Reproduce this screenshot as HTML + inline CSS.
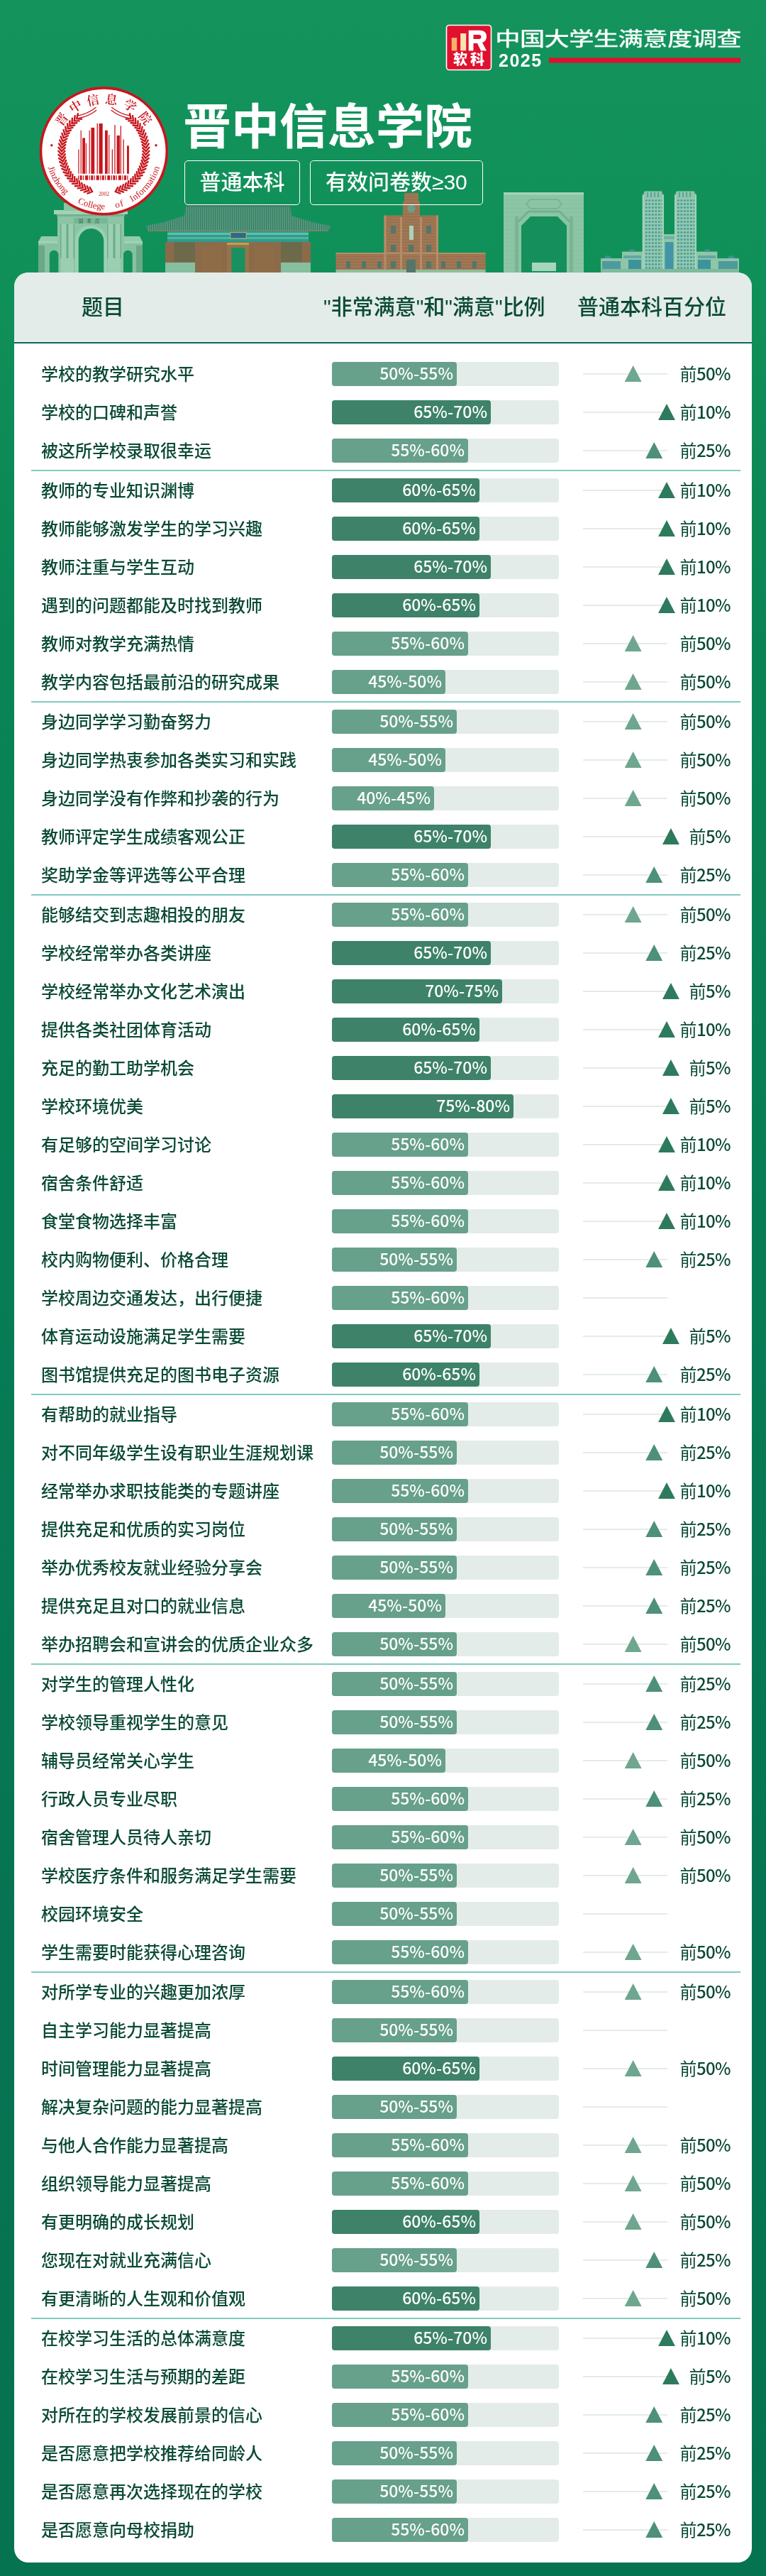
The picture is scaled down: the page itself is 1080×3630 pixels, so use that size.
<!DOCTYPE html>
<html lang="zh-CN"><head><meta charset="utf-8"><title>晋中信息学院 - 中国大学生满意度调查2025</title>
<style>
html,body{margin:0;padding:0;-webkit-font-smoothing:antialiased}
body{width:1080px;height:3630px;position:relative;overflow:hidden;
background:linear-gradient(180deg,#14935d 0px,#109059 400px,#0a8455 900px,#077c55 1800px,#067452 2700px,#057250 3630px);
font-family:"Liberation Sans","Noto Sans CJK SC",sans-serif;}
.cjk{font-family:"Noto Sans CJK SC",sans-serif}
.card{position:absolute;left:20px;top:384px;width:1040px;height:3227px;background:#fff;border-radius:20px;overflow:hidden}
.thead{position:absolute;left:0;top:0;width:1040px;height:97px;background:#e3ece9;border-bottom:1px solid #f4f7f6;will-change:transform}
.thead .bd{position:absolute;left:0;top:98px;width:1040px;height:2px;background:#03685a}
.th{position:absolute;top:-1.8px;line-height:97px;height:97px;font-size:30px;font-weight:500;color:#0b4a35;font-family:"Noto Sans CJK SC",sans-serif;white-space:nowrap}
.q{font-family:"Liberation Sans",sans-serif;font-weight:400}
.row{position:absolute;left:0;width:1040px;height:54px;will-change:transform}
.lbl{position:absolute;left:38px;top:-1.5px;line-height:54px;font-size:24px;color:#0b4a35;font-family:"Noto Sans CJK SC",sans-serif;font-weight:500;white-space:nowrap}
.trk{position:absolute;left:448px;top:10px;width:320px;height:34px;background:#e4ece9;border-radius:4px}
.fill{height:34px;border-radius:4px;color:#fff;text-align:right;box-sizing:border-box;padding-right:5px;font-size:23px;line-height:31px;font-family:"Noto Sans CJK SC",sans-serif;font-weight:500;white-space:nowrap}
.ln{position:absolute;left:801.6px;width:119.4px;top:26px;height:2px;background:#e3ece8}
.tri{position:absolute;top:14.9px;width:24.2px;height:23.4px;clip-path:polygon(50% 0,100% 100%,0 100%)}
.pct{position:absolute;right:30px;top:-1.5px;line-height:54px;font-size:24px;color:#0b4a35;font-family:"Noto Sans CJK SC",sans-serif;font-weight:500;letter-spacing:-0.6px;white-space:nowrap}
.qn{font-weight:400}
.sep{position:absolute;left:24px;width:1000px;height:2px;background:#80cbbf}
</style></head><body>
<svg style="position:absolute;left:0;top:0;will-change:transform" width="1080" height="400" viewBox="0 0 1080 400">
<defs>
<pattern id="tiles" x="0" y="0" width="3" height="10" patternUnits="userSpaceOnUse"><rect width="3" height="10" fill="#4a8f76"/><rect width="1.1" height="10" fill="#387b63"/><rect x="1.6" width="0.8" height="10" fill="#60a388"/></pattern>
<pattern id="twin" x="0" y="0" width="4.5" height="5" patternUnits="userSpaceOnUse"><rect width="4.5" height="5" fill="#93caab"/><rect x="0.9" y="1.2" width="2.8" height="2.6" fill="#4d9aa0"/></pattern>
<pattern id="brick" x="0" y="0" width="6" height="4" patternUnits="userSpaceOnUse"><rect width="6" height="4" fill="#9b7250"/><rect y="3.3" width="6" height="0.7" fill="#a8805c"/></pattern>
<pattern id="mint" x="0" y="0" width="6" height="6" patternUnits="userSpaceOnUse"><rect width="6" height="6" fill="#8cc5a6"/><rect y="5.4" width="6" height="0.6" fill="#82bd9d"/></pattern>
</defs>
<!-- Tsinghua gate -->
<g>
<rect x="54" y="340" width="147" height="44" fill="#86c2a1"/>
<path d="M54 341 L58 333 L82 333 L82 341 Z M175 341 L175 333 L197 333 L201 341 Z" fill="#94cbac"/>
<rect x="54" y="340" width="28" height="3" fill="#9fd3b5"/>
<rect x="175" y="340" width="26" height="3" fill="#9fd3b5"/>
<rect x="81" y="300" width="94" height="84" fill="#8cc5a6"/>
<rect x="76" y="296" width="104" height="6" fill="#a0d3b6"/>
<rect x="80" y="302" width="96" height="3" fill="#74b191"/>
<rect x="90" y="286" width="76" height="11" fill="#8cc5a6"/>
<rect x="104" y="307" width="48" height="8" fill="#7ab797"/>
<text x="128" y="314" text-anchor="middle" font-family="'Noto Serif CJK SC',serif" font-size="6.5" fill="#2e5e48" letter-spacing="5">園華清</text>
<path d="M110.5 384 L110.5 340 A18 18 0 0 1 146.5 340 L146.5 384 Z" fill="#15905c"/>
<path d="M106 384 L106 340 A22.5 22.5 0 0 1 151 340 L151 384 L146.5 384 L146.5 340 A18 18 0 0 0 110.5 340 L110.5 384 Z" fill="#9bd0b2"/>
<path d="M69.8 384 L69.8 359 A6.3 6.3 0 0 1 82.4 359 L82.4 384 Z M174 384 L174 359 A6.3 6.3 0 0 1 186.7 359 L186.7 384 Z" fill="#15905c"/>
<rect x="85" y="316" width="20" height="48" fill="#6dab8b"/>
<rect x="151" y="316" width="20" height="48" fill="#6dab8b"/>
<rect x="86.5" y="316" width="7" height="48" fill="#9dd0b3"/>
<rect x="96.5" y="316" width="7" height="48" fill="#9dd0b3"/>
<rect x="152.5" y="316" width="7" height="48" fill="#9dd0b3"/>
<rect x="162.5" y="316" width="7" height="48" fill="#9dd0b3"/>
<rect x="54" y="346" width="9" height="38" fill="#6aa987"/>
<rect x="192" y="346" width="9" height="38" fill="#6aa987"/>
<rect x="86" y="364" width="18" height="20" fill="#9ccfb2"/>
<rect x="152" y="364" width="18" height="20" fill="#9ccfb2"/>
</g>
<!-- PKU west gate -->
<g>
<path d="M262 290 L409 290 L411 304 L440 313 L466 318 L463 326 L208 326 L206 318 L231 313 L260 304 Z" fill="url(#tiles)"/>
<path d="M262 290 L409 290" stroke="#3b7c63" stroke-width="2.4"/>
<path d="M210 325 L461 325" stroke="#a07a4c" stroke-width="1.6" stroke-dasharray="1.5 1.5"/>
<rect x="236" y="326" width="199" height="15" fill="#2f9b8b"/>
<rect x="236" y="328" width="199" height="3" fill="#5cc0ac"/>
<rect x="236" y="334" width="199" height="3" fill="#4fb3a0"/>
<rect x="324.8" y="327.6" width="22.4" height="8.4" fill="#2c6a8a" stroke="#c2b460" stroke-width="1"/>
<rect x="233" y="341" width="205" height="43" fill="#8b6a4a"/>
<rect x="245" y="341" width="30" height="28" fill="#6c6a4b"/>
<rect x="396" y="341" width="30" height="28" fill="#6c6a4b"/>
<rect x="233" y="370" width="42" height="14" fill="#86bf9f"/>
<rect x="396" y="370" width="42" height="14" fill="#86bf9f"/>
<rect x="283.5" y="346" width="29.2" height="38" fill="#8f6c48"/>
<rect x="358" y="346" width="29.2" height="38" fill="#8f6c48"/>
<rect x="320" y="344" width="31" height="40" fill="#97734c"/>
<rect x="326.3" y="349" width="19.2" height="35" fill="#1a8f5f"/>
<rect x="320" y="342" width="31" height="3" fill="#b8a456"/>
</g>
<!-- brick building -->
<g>
<rect x="570" y="272" width="20" height="13" fill="url(#brick)"/>
<rect x="568" y="284" width="24" height="20" fill="url(#brick)"/>
<rect x="541.5" y="303.6" width="76.5" height="80.4" fill="url(#brick)"/>
<rect x="473.6" y="356" width="211" height="28" fill="url(#brick)"/>
<g fill="#b48d68">
<rect x="541.5" y="303.6" width="3" height="80"/><rect x="615" y="303.6" width="3" height="80"/>
<rect x="564" y="306" width="3" height="78"/><rect x="592" y="306" width="3" height="78"/>
<rect x="473.6" y="356" width="211" height="2"/>
</g>
<rect x="473.6" y="380" width="211" height="4" fill="#8fbf9c"/>
<circle cx="580" cy="294" r="5.5" fill="#6aa08a"/>
<g fill="#55756a">
<rect x="551" y="318" width="7" height="11"/><rect x="601" y="318" width="7" height="11"/>
<rect x="551" y="345" width="7" height="10"/><rect x="601" y="345" width="7" height="10"/><rect x="576" y="345" width="7" height="10"/>
<rect x="488" y="368" width="6" height="10"/><rect x="510" y="368" width="6" height="10"/><rect x="532" y="368" width="6" height="10"/>
<rect x="551" y="368" width="7" height="10"/><rect x="601" y="368" width="7" height="10"/>
<rect x="622" y="368" width="6" height="10"/><rect x="644" y="368" width="6" height="10"/><rect x="666" y="368" width="6" height="10"/>
<rect x="573" y="366" width="13" height="18"/>
</g>
<rect x="577" y="318" width="6" height="20" fill="#a9d3bb"/>
</g>
<!-- right gate -->
<g>
<rect x="710" y="271" width="113" height="113" fill="url(#mint)"/>
<path d="M735 384 L735 318 L748 305 L786 305 L799 318 L799 384 Z" fill="#15905c"/>
<path d="M729 314 L745 298 L789 298 L805 314" stroke="#74b090" stroke-width="3" fill="none"/>
<path d="M748 281 L786 281 L792 288 L786 294 L748 294 L742 288 Z" stroke="#74b090" stroke-width="1.5" fill="none"/>
<rect x="710" y="271" width="113" height="4" fill="#9fd2b5"/>
<rect x="726" y="305" width="5" height="79" fill="#79b493"/>
<rect x="803" y="305" width="5" height="79" fill="#79b493"/>
<rect x="750" y="370" width="34" height="12" fill="#a6d5bb"/>
</g>
<!-- twin towers -->
<g>
<rect x="847" y="364" width="30" height="20" fill="#8cc4a6"/>
<rect x="1011" y="364" width="31" height="20" fill="#8cc4a6"/>
<path d="M852 364 A5 4 0 0 1 862 364 Z M1026 364 A5 4 0 0 1 1036 364 Z" fill="#3f8f9c"/>
<rect x="849" y="368" width="26" height="11" fill="#3a8c9a" opacity="0.75"/>
<rect x="1013" y="368" width="27" height="11" fill="#3a8c9a" opacity="0.75"/>
<rect x="877" y="354.6" width="29" height="29.4" fill="#8fc6a7"/>
<rect x="982" y="354.6" width="29.3" height="29.4" fill="#8fc6a7"/>
<path d="M886 354.6 A5 3.5 0 0 1 896 354.6 Z M992 354.6 A5 3.5 0 0 1 1002 354.6 Z" fill="#3f8f9c"/>
<rect x="879" y="360" width="25" height="4" fill="#4a9aa0" opacity="0.7"/>
<rect x="984" y="360" width="25" height="4" fill="#4a9aa0" opacity="0.7"/>
<rect x="886" y="366" width="18" height="14" fill="#2f8a9a" opacity="0.85"/>
<rect x="984" y="366" width="18" height="14" fill="#2f8a9a" opacity="0.85"/>
<path d="M905.8 384 L905.8 275 L909 269.6 L933 269.6 L936 275 L936 384 Z" fill="url(#twin)"/>
<path d="M951 384 L951 275 L954 269.6 L978.5 269.6 L982 275 L982 384 Z" fill="url(#twin)"/>
<rect x="909" y="270" width="24" height="9" fill="#8fc6a7"/>
<rect x="954" y="270" width="25" height="9" fill="#8fc6a7"/>
<g fill="#5aa3a3"><rect x="912" y="271" width="2" height="7"/><rect x="917" y="271" width="2" height="7"/><rect x="922" y="271" width="2" height="7"/><rect x="927" y="271" width="2" height="7"/>
<rect x="957" y="271" width="2" height="7"/><rect x="962" y="271" width="2" height="7"/><rect x="967" y="271" width="2" height="7"/><rect x="972" y="271" width="2" height="7"/></g>
<rect x="905.8" y="275" width="2.5" height="109" fill="#a2d4b8"/>
<rect x="933.5" y="275" width="2.5" height="109" fill="#a2d4b8"/>
<rect x="951" y="275" width="2.5" height="109" fill="#a2d4b8"/>
<rect x="979.5" y="275" width="2.5" height="109" fill="#a2d4b8"/>
<rect x="936" y="330" width="15" height="54" fill="#8fc6a7"/>
<rect x="937.5" y="341" width="12" height="38" fill="#3a8fa6" opacity="0.9"/>
<rect x="936" y="333" width="15" height="4" fill="#5aa3a3" opacity="0.6"/>
<rect x="847" y="379" width="195" height="5" fill="#80bb9b"/>
</g>

<circle cx="146.4" cy="212.8" r="88.9" fill="#fff" stroke="#c8161d" stroke-width="3.6"/>
<path d="M 123.4 272.6 L 130.0 270.0 L 126.7 264.1 M 118.7 270.6 L 125.5 268.5 L 122.7 262.3 M 114.2 268.2 L 121.1 266.6 L 118.8 260.2 M 109.8 265.4 L 116.8 264.4 L 115.1 257.9 M 105.7 262.3 L 112.8 261.9 L 111.6 255.2 M 101.9 258.9 L 109.0 259.0 L 108.3 252.3 M 98.3 255.2 L 105.4 255.9 L 105.2 249.1 M 95.1 251.2 L 102.0 252.5 L 102.4 245.7 M 92.2 247.0 L 99.0 248.8 L 99.9 242.1 M 89.6 242.5 L 96.3 244.9 L 97.7 238.2 M 87.4 237.8 L 93.9 240.7 L 95.9 234.3 M 85.6 233.0 L 91.8 236.4 L 94.3 230.1 M 84.2 228.1 L 90.1 232.0 L 93.1 225.9 M 83.1 223.0 L 88.7 227.4 L 92.2 221.6 M 82.5 217.9 L 87.7 222.7 L 91.7 217.2 M 82.3 212.8 L 87.1 218.0 L 91.5 212.8 M 82.5 207.7 L 86.9 213.2 L 91.7 208.4 M 83.1 202.6 L 87.1 208.4 L 92.2 204.0 M 84.2 197.5 L 87.6 203.7 L 93.1 199.7 M 85.6 192.6 L 88.5 199.0 L 94.3 195.5 M 87.4 187.8 L 89.8 194.4 L 95.9 191.3 M 89.6 183.1 L 91.5 189.9 L 97.7 187.4 M 92.2 178.6 L 93.5 185.6 L 99.9 183.5 M 95.1 174.4 L 95.8 181.4 L 102.4 179.9 M 98.3 170.4 L 98.5 177.5 L 105.2 176.5 M 101.9 166.7 L 101.5 173.8 L 108.3 173.3 M 105.7 163.3 L 104.8 170.3 L 111.6 170.4 M 109.8 160.2 L 108.3 167.1 L 115.1 167.7 M 169.4 272.6 L 162.8 270.0 L 166.1 264.1 M 174.1 270.6 L 167.3 268.5 L 170.1 262.3 M 178.6 268.2 L 171.7 266.6 L 174.0 260.2 M 183.0 265.4 L 176.0 264.4 L 177.7 257.9 M 187.1 262.3 L 180.0 261.9 L 181.2 255.2 M 190.9 258.9 L 183.8 259.0 L 184.5 252.3 M 194.5 255.2 L 187.4 255.9 L 187.6 249.1 M 197.7 251.2 L 190.8 252.5 L 190.4 245.7 M 200.6 247.0 L 193.8 248.8 L 192.9 242.1 M 203.2 242.5 L 196.5 244.9 L 195.1 238.2 M 205.4 237.8 L 198.9 240.7 L 196.9 234.3 M 207.2 233.0 L 201.0 236.4 L 198.5 230.1 M 208.6 228.1 L 202.7 232.0 L 199.7 225.9 M 209.7 223.0 L 204.1 227.4 L 200.6 221.6 M 210.3 217.9 L 205.1 222.7 L 201.1 217.2 M 210.5 212.8 L 205.7 218.0 L 201.3 212.8 M 210.3 207.7 L 205.9 213.2 L 201.1 208.4 M 209.7 202.6 L 205.7 208.4 L 200.6 204.0 M 208.6 197.5 L 205.2 203.7 L 199.7 199.7 M 207.2 192.6 L 204.3 199.0 L 198.5 195.5 M 205.4 187.8 L 203.0 194.4 L 196.9 191.3 M 203.2 183.1 L 201.3 189.9 L 195.1 187.4 M 200.6 178.6 L 199.3 185.6 L 192.9 183.5 M 197.7 174.4 L 197.0 181.4 L 190.4 179.9 M 194.5 170.4 L 194.3 177.5 L 187.6 176.5 M 190.9 166.7 L 191.3 173.8 L 184.5 173.3 M 187.1 163.3 L 188.0 170.3 L 181.2 170.4 M 183.0 160.2 L 184.5 167.1 L 177.7 167.7" fill="none" stroke="#c8161d" stroke-width="2.4" stroke-linejoin="miter" stroke-linecap="round"/>
<path d="M 110.4 166.7 A 58.5 58.5 0 0 0 136.2 155.2" fill="none" stroke="#c8161d" stroke-width="1.3"/>
<path d="M 156.6 155.2 A 58.5 58.5 0 0 0 182.4 166.7" fill="none" stroke="#c8161d" stroke-width="1.3"/>
<path d="M 107.9 163.5 A 62.5 62.5 0 0 0 135.5 151.2" fill="none" stroke="#c8161d" stroke-width="1.3"/>
<path d="M 157.3 151.2 A 62.5 62.5 0 0 0 184.9 163.5" fill="none" stroke="#c8161d" stroke-width="1.3"/>
<rect x="110.3" y="210.5" width="1.2" height="34.3" fill="#c8161d"/>
<rect x="113.6" y="183.7" width="1.2" height="61.1" fill="#c8161d"/>
<rect x="116.2" y="194.4" width="3.8" height="50.4" fill="#c8161d"/>
<rect x="120.8" y="201.6" width="1.2" height="43.2" fill="#c8161d"/>
<rect x="125.6" y="183.7" width="1.2" height="61.1" fill="#c8161d"/>
<rect x="128.4" y="179.9" width="4.8" height="64.9" fill="#c8161d"/>
<rect x="136.6" y="174" width="1.3" height="70.8" fill="#c8161d"/>
<rect x="139.6" y="174" width="5.1" height="70.8" fill="#c8161d"/>
<rect x="148" y="183.7" width="3.8" height="61.1" fill="#c8161d"/>
<rect x="153.1" y="190" width="1.2" height="54.8" fill="#c8161d"/>
<rect x="157.7" y="210.5" width="1.3" height="34.3" fill="#c8161d"/>
<rect x="161.3" y="176.1" width="1.3" height="68.7" fill="#c8161d"/>
<rect x="164.6" y="190.9" width="4.3" height="53.9" fill="#c8161d"/>
<rect x="169.7" y="177.4" width="1.3" height="67.4" fill="#c8161d"/>
<rect x="173.5" y="196.5" width="1.3" height="48.3" fill="#c8161d"/>
<rect x="179" y="205.4" width="2.9" height="39.4" fill="#c8161d"/>
<path d="M 110 250.5 L 182 250.5" stroke="#c8161d" stroke-width="6.3" stroke-dasharray="1.2 1.4 3 1.3 1.2 2 4 1.5"/>
<circle cx="72.8" cy="204.8" r="1.7" fill="#c8161d"/>
<circle cx="220" cy="204.8" r="1.7" fill="#c8161d"/>
<text x="86.0" y="167.5" transform="rotate(-53.1 86.0 167.5)" text-anchor="middle" dominant-baseline="central" font-family="'Noto Serif CJK SC',serif" font-weight="600" font-size="17.5" fill="#c8161d">晋</text>
<text x="105.8" y="149.1" transform="rotate(-32.5 105.8 149.1)" text-anchor="middle" dominant-baseline="central" font-family="'Noto Serif CJK SC',serif" font-weight="600" font-size="17.5" fill="#c8161d">中</text>
<text x="130.7" y="140.0" transform="rotate(-12.2 130.7 140.0)" text-anchor="middle" dominant-baseline="central" font-family="'Noto Serif CJK SC',serif" font-weight="600" font-size="17.5" fill="#c8161d">信</text>
<text x="157.3" y="139.1" transform="rotate(8.4 157.3 139.1)" text-anchor="middle" dominant-baseline="central" font-family="'Noto Serif CJK SC',serif" font-weight="600" font-size="17.5" fill="#c8161d">息</text>
<text x="184.1" y="148.0" transform="rotate(30.2 184.1 148.0)" text-anchor="middle" dominant-baseline="central" font-family="'Noto Serif CJK SC',serif" font-weight="600" font-size="17.5" fill="#c8161d">学</text>
<text x="205.7" y="166.0" transform="rotate(51.7 205.7 166.0)" text-anchor="middle" dominant-baseline="central" font-family="'Noto Serif CJK SC',serif" font-weight="600" font-size="17.5" fill="#c8161d">院</text>
<path id="arcBot" d="M 66.8 232.6 A 82 82 0 0 0 226.0 232.6" fill="none"/>
<text font-family="'Liberation Serif',serif" font-size="13" fill="#c8161d"><textPath href="#arcBot" startOffset="3.3" textLength="46.4" lengthAdjust="spacing">Jinzhong</textPath></text>
<text font-family="'Liberation Serif',serif" font-size="13" fill="#c8161d"><textPath href="#arcBot" startOffset="70.0" textLength="40.5" lengthAdjust="spacing">College</textPath></text>
<text font-family="'Liberation Serif',serif" font-size="13" fill="#c8161d"><textPath href="#arcBot" startOffset="125.8" textLength="11.9" lengthAdjust="spacing">of</textPath></text>
<text font-family="'Liberation Serif',serif" font-size="13" fill="#c8161d"><textPath href="#arcBot" startOffset="150.1" textLength="64.0" lengthAdjust="spacing">Information</textPath></text>
<text x="146.4" y="276" font-family="'Liberation Serif',serif" font-size="7.5" fill="#c8161d" text-anchor="middle">2002</text>
<g>
<rect x="629.5" y="35.5" width="63" height="63" rx="4" fill="#e0102f" stroke="#fff" stroke-width="1.6"/>
<rect x="636.7" y="53.2" width="7.5" height="18.2" fill="#f7b26a"/>
<rect x="649.2" y="47" width="8" height="24.4" fill="#fde3b0"/>
<path d="M660.7 42.7 L676 42.7 Q686 42.7 686 51.5 Q686 58 680 60 L686 71.4 L678 71.4 L673 61 L667.5 61 L667.5 71.4 L660.7 71.4 Z M667.5 49 L667.5 55 L675 55 Q678.5 55 678.5 52 Q678.5 49 675 49 Z" fill="#fff" fill-rule="evenodd"/>
<text x="663" y="90.5" font-family="'Noto Sans CJK SC',sans-serif" font-weight="900" font-size="20" fill="#fff" text-anchor="middle" letter-spacing="4">软科</text>
</g>
<rect x="774" y="81.5" width="270" height="7" fill="#e0102f"/>
</svg>
<div style="will-change:transform;position:absolute;left:697.8px;top:33px;font-family:'Noto Sans CJK SC',sans-serif;font-weight:500;font-size:31px;line-height:44px;color:#fff;letter-spacing:-0.85px;white-space:nowrap;transform:scale(1.15,0.9);transform-origin:0 0">中国大学生满意度调查</div>
<div style="will-change:transform;position:absolute;left:703px;top:70px;font-family:'Liberation Sans',sans-serif;font-weight:bold;font-size:25px;line-height:30px;letter-spacing:1.5px;color:#fff;white-space:nowrap">2025</div>
<div style="will-change:transform;position:absolute;left:258px;top:124.5px;font-family:'Noto Sans CJK SC',sans-serif;font-weight:700;font-size:68px;line-height:98px;color:#fff;white-space:nowrap">晋中信息学院</div>
<div style="will-change:transform;position:absolute;left:260.4px;top:225.7px;width:163.2px;height:62.6px;box-sizing:border-box;border:1.8px solid #fff;border-radius:5px;font-family:'Noto Sans CJK SC',sans-serif;font-weight:500;font-size:30px;line-height:55px;color:#fff;text-align:center;white-space:nowrap">普通本科</div>
<div style="will-change:transform;position:absolute;left:437.2px;top:225.7px;width:243.8px;height:62.6px;box-sizing:border-box;border:1.8px solid #fff;border-radius:5px;font-family:'Noto Sans CJK SC',sans-serif;font-weight:500;font-size:30px;line-height:55px;color:#fff;text-align:center;white-space:nowrap">有效问卷数<span style="font-family:'Liberation Sans',sans-serif">≥30</span></div>
<div class="card">
<div class="thead"><div class="bd"></div>
<div class="th" style="left:95px">题目</div>
<div class="th" style="left:436px"><span class="q">"</span>非常满意<span class="q">"</span>和<span class="q">"</span>满意<span class="q">"</span>比例</div>
<div class="th" style="left:794px">普通本科百分位</div>
</div>
<div class="row" style="top:115.60px"><div class="lbl">学校的教学研究水平</div><div class="trk"><div class="fill" style="width:176.0px;background:#67a08b">50%-55%</div></div><div class="ln"></div><div class="tri" style="left:860.55px;background:#6fa690"></div><div class="pct"><span class="qn">前</span>50%</div></div><div class="row" style="top:169.60px"><div class="lbl">学校的口碑和声誉</div><div class="trk"><div class="fill" style="width:224.0px;background:#3d8269">65%-70%</div></div><div class="ln"></div><div class="tri" style="left:907.91px;background:#2e7a5d"></div><div class="pct"><span class="qn">前</span>10%</div></div><div class="row" style="top:223.60px"><div class="lbl">被这所学校录取很幸运</div><div class="trk"><div class="fill" style="width:192.0px;background:#67a08b">55%-60%</div></div><div class="ln"></div><div class="tri" style="left:890.15px;background:#4e9078"></div><div class="pct"><span class="qn">前</span>25%</div></div><div class="sep" style="top:277.60px"></div><div class="row" style="top:279.60px"><div class="lbl">教师的专业知识渊博</div><div class="trk"><div class="fill" style="width:208.0px;background:#3d8269">60%-65%</div></div><div class="ln"></div><div class="tri" style="left:907.91px;background:#2e7a5d"></div><div class="pct"><span class="qn">前</span>10%</div></div><div class="row" style="top:333.60px"><div class="lbl">教师能够激发学生的学习兴趣</div><div class="trk"><div class="fill" style="width:208.0px;background:#3d8269">60%-65%</div></div><div class="ln"></div><div class="tri" style="left:907.91px;background:#2e7a5d"></div><div class="pct"><span class="qn">前</span>10%</div></div><div class="row" style="top:387.60px"><div class="lbl">教师注重与学生互动</div><div class="trk"><div class="fill" style="width:224.0px;background:#3d8269">65%-70%</div></div><div class="ln"></div><div class="tri" style="left:907.91px;background:#2e7a5d"></div><div class="pct"><span class="qn">前</span>10%</div></div><div class="row" style="top:441.60px"><div class="lbl">遇到的问题都能及时找到教师</div><div class="trk"><div class="fill" style="width:208.0px;background:#3d8269">60%-65%</div></div><div class="ln"></div><div class="tri" style="left:907.91px;background:#2e7a5d"></div><div class="pct"><span class="qn">前</span>10%</div></div><div class="row" style="top:495.60px"><div class="lbl">教师对教学充满热情</div><div class="trk"><div class="fill" style="width:192.0px;background:#67a08b">55%-60%</div></div><div class="ln"></div><div class="tri" style="left:860.55px;background:#6fa690"></div><div class="pct"><span class="qn">前</span>50%</div></div><div class="row" style="top:549.60px"><div class="lbl">教学内容包括最前沿的研究成果</div><div class="trk"><div class="fill" style="width:160.0px;background:#67a08b">45%-50%</div></div><div class="ln"></div><div class="tri" style="left:860.55px;background:#6fa690"></div><div class="pct"><span class="qn">前</span>50%</div></div><div class="sep" style="top:603.60px"></div><div class="row" style="top:605.60px"><div class="lbl">身边同学学习勤奋努力</div><div class="trk"><div class="fill" style="width:176.0px;background:#67a08b">50%-55%</div></div><div class="ln"></div><div class="tri" style="left:860.55px;background:#6fa690"></div><div class="pct"><span class="qn">前</span>50%</div></div><div class="row" style="top:659.60px"><div class="lbl">身边同学热衷参加各类实习和实践</div><div class="trk"><div class="fill" style="width:160.0px;background:#67a08b">45%-50%</div></div><div class="ln"></div><div class="tri" style="left:860.55px;background:#6fa690"></div><div class="pct"><span class="qn">前</span>50%</div></div><div class="row" style="top:713.60px"><div class="lbl">身边同学没有作弊和抄袭的行为</div><div class="trk"><div class="fill" style="width:144.0px;background:#67a08b">40%-45%</div></div><div class="ln"></div><div class="tri" style="left:860.55px;background:#6fa690"></div><div class="pct"><span class="qn">前</span>50%</div></div><div class="row" style="top:767.60px"><div class="lbl">教师评定学生成绩客观公正</div><div class="trk"><div class="fill" style="width:224.0px;background:#3d8269">65%-70%</div></div><div class="ln"></div><div class="tri" style="left:913.83px;background:#2e7a5d"></div><div class="pct"><span class="qn">前</span>5%</div></div><div class="row" style="top:821.60px"><div class="lbl">奖助学金等评选等公平合理</div><div class="trk"><div class="fill" style="width:192.0px;background:#67a08b">55%-60%</div></div><div class="ln"></div><div class="tri" style="left:890.15px;background:#4e9078"></div><div class="pct"><span class="qn">前</span>25%</div></div><div class="sep" style="top:875.60px"></div><div class="row" style="top:877.60px"><div class="lbl">能够结交到志趣相投的朋友</div><div class="trk"><div class="fill" style="width:192.0px;background:#67a08b">55%-60%</div></div><div class="ln"></div><div class="tri" style="left:860.55px;background:#6fa690"></div><div class="pct"><span class="qn">前</span>50%</div></div><div class="row" style="top:931.60px"><div class="lbl">学校经常举办各类讲座</div><div class="trk"><div class="fill" style="width:224.0px;background:#3d8269">65%-70%</div></div><div class="ln"></div><div class="tri" style="left:890.15px;background:#4e9078"></div><div class="pct"><span class="qn">前</span>25%</div></div><div class="row" style="top:985.60px"><div class="lbl">学校经常举办文化艺术演出</div><div class="trk"><div class="fill" style="width:240.0px;background:#3d8269">70%-75%</div></div><div class="ln"></div><div class="tri" style="left:913.83px;background:#2e7a5d"></div><div class="pct"><span class="qn">前</span>5%</div></div><div class="row" style="top:1039.60px"><div class="lbl">提供各类社团体育活动</div><div class="trk"><div class="fill" style="width:208.0px;background:#3d8269">60%-65%</div></div><div class="ln"></div><div class="tri" style="left:907.91px;background:#2e7a5d"></div><div class="pct"><span class="qn">前</span>10%</div></div><div class="row" style="top:1093.60px"><div class="lbl">充足的勤工助学机会</div><div class="trk"><div class="fill" style="width:224.0px;background:#3d8269">65%-70%</div></div><div class="ln"></div><div class="tri" style="left:913.83px;background:#2e7a5d"></div><div class="pct"><span class="qn">前</span>5%</div></div><div class="row" style="top:1147.60px"><div class="lbl">学校环境优美</div><div class="trk"><div class="fill" style="width:256.0px;background:#3d8269">75%-80%</div></div><div class="ln"></div><div class="tri" style="left:913.83px;background:#2e7a5d"></div><div class="pct"><span class="qn">前</span>5%</div></div><div class="row" style="top:1201.60px"><div class="lbl">有足够的空间学习讨论</div><div class="trk"><div class="fill" style="width:192.0px;background:#67a08b">55%-60%</div></div><div class="ln"></div><div class="tri" style="left:907.91px;background:#2e7a5d"></div><div class="pct"><span class="qn">前</span>10%</div></div><div class="row" style="top:1255.60px"><div class="lbl">宿舍条件舒适</div><div class="trk"><div class="fill" style="width:192.0px;background:#67a08b">55%-60%</div></div><div class="ln"></div><div class="tri" style="left:907.91px;background:#2e7a5d"></div><div class="pct"><span class="qn">前</span>10%</div></div><div class="row" style="top:1309.60px"><div class="lbl">食堂食物选择丰富</div><div class="trk"><div class="fill" style="width:192.0px;background:#67a08b">55%-60%</div></div><div class="ln"></div><div class="tri" style="left:907.91px;background:#2e7a5d"></div><div class="pct"><span class="qn">前</span>10%</div></div><div class="row" style="top:1363.60px"><div class="lbl">校内购物便利、价格合理</div><div class="trk"><div class="fill" style="width:176.0px;background:#67a08b">50%-55%</div></div><div class="ln"></div><div class="tri" style="left:890.15px;background:#4e9078"></div><div class="pct"><span class="qn">前</span>25%</div></div><div class="row" style="top:1417.60px"><div class="lbl">学校周边交通发达，出行便捷</div><div class="trk"><div class="fill" style="width:192.0px;background:#67a08b">55%-60%</div></div><div class="ln"></div></div><div class="row" style="top:1471.60px"><div class="lbl">体育运动设施满足学生需要</div><div class="trk"><div class="fill" style="width:224.0px;background:#3d8269">65%-70%</div></div><div class="ln"></div><div class="tri" style="left:913.83px;background:#2e7a5d"></div><div class="pct"><span class="qn">前</span>5%</div></div><div class="row" style="top:1525.60px"><div class="lbl">图书馆提供充足的图书电子资源</div><div class="trk"><div class="fill" style="width:208.0px;background:#3d8269">60%-65%</div></div><div class="ln"></div><div class="tri" style="left:890.15px;background:#4e9078"></div><div class="pct"><span class="qn">前</span>25%</div></div><div class="sep" style="top:1579.60px"></div><div class="row" style="top:1581.60px"><div class="lbl">有帮助的就业指导</div><div class="trk"><div class="fill" style="width:192.0px;background:#67a08b">55%-60%</div></div><div class="ln"></div><div class="tri" style="left:907.91px;background:#2e7a5d"></div><div class="pct"><span class="qn">前</span>10%</div></div><div class="row" style="top:1635.60px"><div class="lbl">对不同年级学生设有职业生涯规划课</div><div class="trk"><div class="fill" style="width:176.0px;background:#67a08b">50%-55%</div></div><div class="ln"></div><div class="tri" style="left:890.15px;background:#4e9078"></div><div class="pct"><span class="qn">前</span>25%</div></div><div class="row" style="top:1689.60px"><div class="lbl">经常举办求职技能类的专题讲座</div><div class="trk"><div class="fill" style="width:192.0px;background:#67a08b">55%-60%</div></div><div class="ln"></div><div class="tri" style="left:907.91px;background:#2e7a5d"></div><div class="pct"><span class="qn">前</span>10%</div></div><div class="row" style="top:1743.60px"><div class="lbl">提供充足和优质的实习岗位</div><div class="trk"><div class="fill" style="width:176.0px;background:#67a08b">50%-55%</div></div><div class="ln"></div><div class="tri" style="left:890.15px;background:#4e9078"></div><div class="pct"><span class="qn">前</span>25%</div></div><div class="row" style="top:1797.60px"><div class="lbl">举办优秀校友就业经验分享会</div><div class="trk"><div class="fill" style="width:176.0px;background:#67a08b">50%-55%</div></div><div class="ln"></div><div class="tri" style="left:890.15px;background:#4e9078"></div><div class="pct"><span class="qn">前</span>25%</div></div><div class="row" style="top:1851.60px"><div class="lbl">提供充足且对口的就业信息</div><div class="trk"><div class="fill" style="width:160.0px;background:#67a08b">45%-50%</div></div><div class="ln"></div><div class="tri" style="left:890.15px;background:#4e9078"></div><div class="pct"><span class="qn">前</span>25%</div></div><div class="row" style="top:1905.60px"><div class="lbl">举办招聘会和宣讲会的优质企业众多</div><div class="trk"><div class="fill" style="width:176.0px;background:#67a08b">50%-55%</div></div><div class="ln"></div><div class="tri" style="left:860.55px;background:#6fa690"></div><div class="pct"><span class="qn">前</span>50%</div></div><div class="sep" style="top:1959.60px"></div><div class="row" style="top:1961.60px"><div class="lbl">对学生的管理人性化</div><div class="trk"><div class="fill" style="width:176.0px;background:#67a08b">50%-55%</div></div><div class="ln"></div><div class="tri" style="left:890.15px;background:#4e9078"></div><div class="pct"><span class="qn">前</span>25%</div></div><div class="row" style="top:2015.60px"><div class="lbl">学校领导重视学生的意见</div><div class="trk"><div class="fill" style="width:176.0px;background:#67a08b">50%-55%</div></div><div class="ln"></div><div class="tri" style="left:890.15px;background:#4e9078"></div><div class="pct"><span class="qn">前</span>25%</div></div><div class="row" style="top:2069.60px"><div class="lbl">辅导员经常关心学生</div><div class="trk"><div class="fill" style="width:160.0px;background:#67a08b">45%-50%</div></div><div class="ln"></div><div class="tri" style="left:860.55px;background:#6fa690"></div><div class="pct"><span class="qn">前</span>50%</div></div><div class="row" style="top:2123.60px"><div class="lbl">行政人员专业尽职</div><div class="trk"><div class="fill" style="width:192.0px;background:#67a08b">55%-60%</div></div><div class="ln"></div><div class="tri" style="left:890.15px;background:#4e9078"></div><div class="pct"><span class="qn">前</span>25%</div></div><div class="row" style="top:2177.60px"><div class="lbl">宿舍管理人员待人亲切</div><div class="trk"><div class="fill" style="width:192.0px;background:#67a08b">55%-60%</div></div><div class="ln"></div><div class="tri" style="left:860.55px;background:#6fa690"></div><div class="pct"><span class="qn">前</span>50%</div></div><div class="row" style="top:2231.60px"><div class="lbl">学校医疗条件和服务满足学生需要</div><div class="trk"><div class="fill" style="width:176.0px;background:#67a08b">50%-55%</div></div><div class="ln"></div><div class="tri" style="left:860.55px;background:#6fa690"></div><div class="pct"><span class="qn">前</span>50%</div></div><div class="row" style="top:2285.60px"><div class="lbl">校园环境安全</div><div class="trk"><div class="fill" style="width:176.0px;background:#67a08b">50%-55%</div></div><div class="ln"></div></div><div class="row" style="top:2339.60px"><div class="lbl">学生需要时能获得心理咨询</div><div class="trk"><div class="fill" style="width:192.0px;background:#67a08b">55%-60%</div></div><div class="ln"></div><div class="tri" style="left:860.55px;background:#6fa690"></div><div class="pct"><span class="qn">前</span>50%</div></div><div class="sep" style="top:2393.60px"></div><div class="row" style="top:2395.60px"><div class="lbl">对所学专业的兴趣更加浓厚</div><div class="trk"><div class="fill" style="width:192.0px;background:#67a08b">55%-60%</div></div><div class="ln"></div><div class="tri" style="left:860.55px;background:#6fa690"></div><div class="pct"><span class="qn">前</span>50%</div></div><div class="row" style="top:2449.60px"><div class="lbl">自主学习能力显著提高</div><div class="trk"><div class="fill" style="width:176.0px;background:#67a08b">50%-55%</div></div><div class="ln"></div></div><div class="row" style="top:2503.60px"><div class="lbl">时间管理能力显著提高</div><div class="trk"><div class="fill" style="width:208.0px;background:#3d8269">60%-65%</div></div><div class="ln"></div><div class="tri" style="left:860.55px;background:#6fa690"></div><div class="pct"><span class="qn">前</span>50%</div></div><div class="row" style="top:2557.60px"><div class="lbl">解决复杂问题的能力显著提高</div><div class="trk"><div class="fill" style="width:176.0px;background:#67a08b">50%-55%</div></div><div class="ln"></div></div><div class="row" style="top:2611.60px"><div class="lbl">与他人合作能力显著提高</div><div class="trk"><div class="fill" style="width:192.0px;background:#67a08b">55%-60%</div></div><div class="ln"></div><div class="tri" style="left:860.55px;background:#6fa690"></div><div class="pct"><span class="qn">前</span>50%</div></div><div class="row" style="top:2665.60px"><div class="lbl">组织领导能力显著提高</div><div class="trk"><div class="fill" style="width:192.0px;background:#67a08b">55%-60%</div></div><div class="ln"></div><div class="tri" style="left:860.55px;background:#6fa690"></div><div class="pct"><span class="qn">前</span>50%</div></div><div class="row" style="top:2719.60px"><div class="lbl">有更明确的成长规划</div><div class="trk"><div class="fill" style="width:208.0px;background:#3d8269">60%-65%</div></div><div class="ln"></div><div class="tri" style="left:860.55px;background:#6fa690"></div><div class="pct"><span class="qn">前</span>50%</div></div><div class="row" style="top:2773.60px"><div class="lbl">您现在对就业充满信心</div><div class="trk"><div class="fill" style="width:176.0px;background:#67a08b">50%-55%</div></div><div class="ln"></div><div class="tri" style="left:890.15px;background:#4e9078"></div><div class="pct"><span class="qn">前</span>25%</div></div><div class="row" style="top:2827.60px"><div class="lbl">有更清晰的人生观和价值观</div><div class="trk"><div class="fill" style="width:208.0px;background:#3d8269">60%-65%</div></div><div class="ln"></div><div class="tri" style="left:860.55px;background:#6fa690"></div><div class="pct"><span class="qn">前</span>50%</div></div><div class="sep" style="top:2881.60px"></div><div class="row" style="top:2883.60px"><div class="lbl">在校学习生活的总体满意度</div><div class="trk"><div class="fill" style="width:224.0px;background:#3d8269">65%-70%</div></div><div class="ln"></div><div class="tri" style="left:907.91px;background:#2e7a5d"></div><div class="pct"><span class="qn">前</span>10%</div></div><div class="row" style="top:2937.60px"><div class="lbl">在校学习生活与预期的差距</div><div class="trk"><div class="fill" style="width:192.0px;background:#67a08b">55%-60%</div></div><div class="ln"></div><div class="tri" style="left:913.83px;background:#2e7a5d"></div><div class="pct"><span class="qn">前</span>5%</div></div><div class="row" style="top:2991.60px"><div class="lbl">对所在的学校发展前景的信心</div><div class="trk"><div class="fill" style="width:192.0px;background:#67a08b">55%-60%</div></div><div class="ln"></div><div class="tri" style="left:890.15px;background:#4e9078"></div><div class="pct"><span class="qn">前</span>25%</div></div><div class="row" style="top:3045.60px"><div class="lbl">是否愿意把学校推荐给同龄人</div><div class="trk"><div class="fill" style="width:176.0px;background:#67a08b">50%-55%</div></div><div class="ln"></div><div class="tri" style="left:890.15px;background:#4e9078"></div><div class="pct"><span class="qn">前</span>25%</div></div><div class="row" style="top:3099.60px"><div class="lbl">是否愿意再次选择现在的学校</div><div class="trk"><div class="fill" style="width:176.0px;background:#67a08b">50%-55%</div></div><div class="ln"></div><div class="tri" style="left:890.15px;background:#4e9078"></div><div class="pct"><span class="qn">前</span>25%</div></div><div class="row" style="top:3153.60px"><div class="lbl">是否愿意向母校捐助</div><div class="trk"><div class="fill" style="width:192.0px;background:#67a08b">55%-60%</div></div><div class="ln"></div><div class="tri" style="left:890.15px;background:#4e9078"></div><div class="pct"><span class="qn">前</span>25%</div></div>
</div>
</body></html>
